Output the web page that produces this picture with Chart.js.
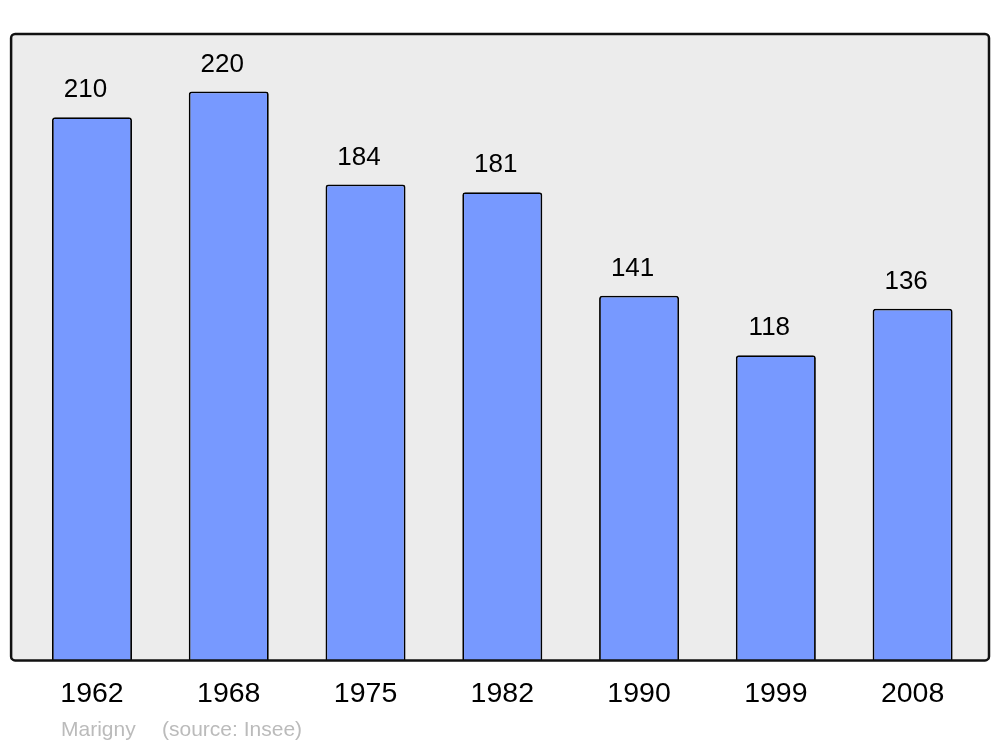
<!DOCTYPE html>
<html>
<head>
<meta charset="utf-8">
<script src="https://cdn.jsdelivr.net/npm/chart.js@4/dist/chart.umd.min.js"></script>
<style>
  body { margin: 0; background: #fff; }
  #wrap { width: 1000px; height: 747px; }
</style>
</head>
<body>
<div id="wrap"><canvas id="myChart" width="1000" height="747"></canvas></div>
<script>
// population data
const years = ['1962', '1968', '1975', '1982', '1990', '1999', '2008'];
const population = [210, 220, 184, 181, 141, 118, 136];
const yMax = 242;
const commune = 'Marigny';
const source = '(source: Insee)';

// gray rounded frame behind the bars, border drawn on top
const framePlugin = {
  id: 'frame',
  framePath(chart) {
    const a = chart.chartArea;
    const ctx = chart.ctx;
    const x = a.left - 12.5, y = a.top - 0.5, w = a.right + 8 - x, h = a.bottom - y;
    ctx.beginPath();
    ctx.roundRect(x, y, w, h, 4);
  },
  beforeDatasetsDraw(chart) {
    const ctx = chart.ctx;
    ctx.save();
    this.framePath(chart);
    ctx.fillStyle = '#ececec';
    ctx.fill();
    ctx.restore();
  },
  afterDatasetsDraw(chart) {
    const ctx = chart.ctx;
    ctx.save();
    this.framePath(chart);
    ctx.lineWidth = 2.5;
    ctx.strokeStyle = '#111';
    ctx.stroke();

    // value labels above the bars
    const meta = chart.getDatasetMeta(0);
    ctx.font = '26px "Liberation Sans", Arial, sans-serif';
    ctx.fillStyle = '#000';
    ctx.textAlign = 'center';
    ctx.textBaseline = 'middle';
    meta.data.forEach((bar, i) => {
      ctx.fillText(String(population[i]), bar.x - 6.5, bar.y - 27);
    });

    // footer
    ctx.font = '21px "Liberation Sans", Arial, sans-serif';
    ctx.fillStyle = '#bbbbbb';
    ctx.textAlign = 'left';
    ctx.fillText(commune, 61, 730);
    ctx.fillText(source, 162, 730);
    ctx.restore();
  }
};

const ctx = document.getElementById('myChart').getContext('2d');
new Chart(ctx, {
  type: 'bar',
  data: {
    labels: years,
    datasets: [{
      data: population,
      backgroundColor: '#7799ff',
      borderColor: '#000',
      borderWidth: 1.8,
      borderRadius: { topLeft: 3, topRight: 3 },
      borderSkipped: 'bottom',
      barPercentage: 0.585,
      categoryPercentage: 1
    }]
  },
  options: {
    responsive: false,
    animation: false,
    layout: { padding: { left: 23.6, right: 19, top: 34.5, bottom: 18.4 } },
    plugins: { legend: { display: false }, tooltip: { enabled: false } },
    scales: {
      x: {
        grid: { display: false, drawTicks: false },
        border: { display: false },
        ticks: {
          color: '#000',
          padding: 17,
          font: { family: '"Liberation Sans", Arial, sans-serif', size: 28.5 }
        }
      },
      y: {
        display: false,
        min: 0,
        max: yMax
      }
    }
  },
  plugins: [framePlugin]
});
</script>
</body>
</html>
